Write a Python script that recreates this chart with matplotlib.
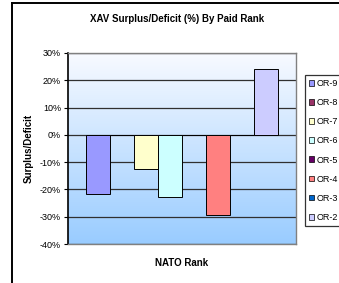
import matplotlib
matplotlib.use("Agg")
import matplotlib.pyplot as plt
import numpy as np
from matplotlib.colors import LinearSegmentedColormap
from matplotlib.lines import Line2D

series = ["OR-9", "OR-8", "OR-7", "OR-6", "OR-5", "OR-4", "OR-3", "OR-2"]
values = [-21.7, 0.0, -12.5, -22.8, 0.0, -29.4, 0.0, 24.3]
colors = ["#9999FF", "#993366", "#FFFFCC", "#CCFFFF", "#660066", "#FF8080", "#0066CC", "#CCCCFF"]
yticks = [30, 20, 10, 0, -10, -20, -30, -40]

plt.rcParams['font.family'] = ['Liberation Sans', 'DejaVu Sans']

fig = plt.figure(figsize=(3.39, 2.83), dpi=100)
W, H = 339, 283
ax = fig.add_axes([68 / W, 1 - 244 / H, 228 / W, 191 / H])

ymin, ymax = -40, 30
# gradient background
cmap = LinearSegmentedColormap.from_list("bg", ["#99CCFF", "#F8FAFF"])
grad = np.linspace(0, 1, 256).reshape(-1, 1)
ax.imshow(grad, cmap=cmap, aspect='auto', extent=(-0.5, 0.5, ymin, ymax),
          origin='lower', zorder=0)

gap = 18 / 228
w = (1 - 2 * gap) / len(series)
for i, (s, v, c) in enumerate(zip(series, values, colors)):
    x = -0.5 + gap + (i + 0.5) * w
    ax.bar(x, v, width=w, color=c, edgecolor='black', linewidth=0.7,
           label=s, zorder=3)

for t in yticks:
    ax.axhline(t, color='#303030', linewidth=0.9, zorder=2)

ax.set_xlim(-0.5, 0.5)
ax.set_ylim(ymin, ymax)
ax.set_yticks(yticks)
ax.set_yticklabels([f"{t}%" for t in yticks], fontsize=6.5)
ax.set_xticks([])
ax.tick_params(axis='y', direction='out', length=3, width=0.8, pad=2)
for side in ['top', 'right', 'bottom']:
    ax.spines[side].set_color('#808080')
    ax.spines[side].set_linewidth(1.0)
ax.spines['left'].set_color('black')
ax.spines['left'].set_linewidth(1.2)

fig.text(177 / W, 1 - 19 / H, "XAV Surplus/Deficit (%) By Paid Rank",
         ha='center', va='center', fontsize=7, fontweight='bold')
fig.text(181.5 / W, 1 - 263 / H, "NATO Rank", ha='center', va='center',
         fontsize=7, fontweight='bold')
fig.text(29 / W, 1 - 148 / H, "Surplus/Deficit", ha='center', va='center',
         rotation=90, fontsize=7, fontweight='bold')

handles = [plt.Rectangle((0, 0), 1, 1, facecolor=c, edgecolor='black', linewidth=0.5)
           for c in colors]
leg = fig.legend(handles, series, loc='upper left',
                 bbox_to_anchor=(305 / W, 1 - 75 / H),
                 fontsize=6.5, frameon=True, fancybox=False,
                 handlelength=0.6, handleheight=0.6, handletextpad=0.25,
                 labelspacing=1.12, borderpad=0.45, borderaxespad=0)
leg.get_frame().set_edgecolor('black')
leg.get_frame().set_linewidth(0.9)

# outer chart frame (left and top edges visible)
fig.add_artist(Line2D([12 / W, 12 / W], [0, 1 - 3 / H], color='black',
                      linewidth=1.4, transform=fig.transFigure))
fig.add_artist(Line2D([12 / W, 1], [1 - 3 / H, 1 - 3 / H], color='black',
                      linewidth=1.4, transform=fig.transFigure))

fig.savefig("out.png", dpi=100)
